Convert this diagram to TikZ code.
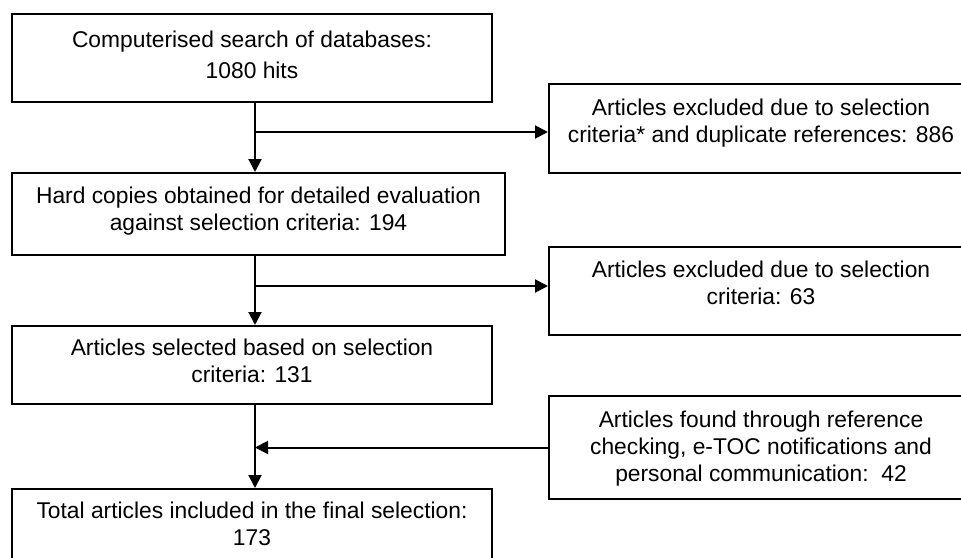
\documentclass[tikz,border=0pt]{standalone}
\usepackage{fontspec}
\setmainfont{Liberation Sans}
\usetikzlibrary{arrows.meta,positioning}

\begin{document}
\begin{tikzpicture}[x=1pt,y=-1pt,
  box/.style={draw,line width=2pt,rectangle,inner sep=0pt},
  txt/.style={align=center,inner sep=0pt,font=\fontsize{22.8}{27}\selectfont},
  arr/.style={line width=2pt,-{Triangle[length=13pt,width=13pt]}}]
\useasboundingbox (0,0) rectangle (961,557);

\coordinate (spine) at (255,0);

% left column
\node[box,minimum width=480pt,minimum height=88pt] (search) at (252,58) {};
\node[box,minimum width=493pt,minimum height=82pt] (hard) at (258.5,214) {};
\node[box,minimum width=480pt,minimum height=78pt] (selected) at (252,365) {};
\node[box,minimum width=480pt,minimum height=76pt] (total) at (252,527) {};

% right column
\node[box,minimum width=424pt,minimum height=89pt] (exclA) at (761,128.5) {};
\node[box,minimum width=424pt,minimum height=88pt] (exclB) at (761,291) {};
\node[box,minimum width=424pt,minimum height=103pt] (found) at (761,447.5) {};

\node[txt,below=18pt of search.north] (searchtxt) {Computerised search of databases:\\[4pt]1080 hits};
\node[txt,below=15pt of hard.north] (hardtxt) {Hard copies obtained for detailed evaluation\\against selection criteria: 194};
\node[txt,below=14pt of selected.north] (selectedtxt) {Articles selected based on selection\\criteria: 131};
\node[txt,below=14pt of total.north] (totaltxt) {Total articles included in the final selection:\\173};
\node[txt,below=16pt of exclA.north] (exclAtxt) {Articles excluded due to selection\\criteria* and duplicate references: 886};
\node[txt,below=15pt of exclB.north] (exclBtxt) {Articles excluded due to selection\\criteria: 63};
\node[txt,below=16pt of found.north] (foundtxt) {Articles found through reference\\checking, e-TOC notifications and\\personal communication:\ \ 42};

\coordinate (splitA) at (255,132);
\coordinate (splitB) at (255,286);

\draw[arr] (search.south -| spine) -- (hard.north -| spine);
\draw[arr] (hard.south -| spine) -- (selected.north -| spine);
\draw[arr] (selected.south -| spine) -- (total.north -| spine);
\draw[arr] (splitA) -- (splitA -| exclA.west);
\draw[arr] (splitB) -- (splitB -| exclB.west);
\draw[arr] (found.west) -- (found.west -| spine);

\end{tikzpicture}
\end{document}
